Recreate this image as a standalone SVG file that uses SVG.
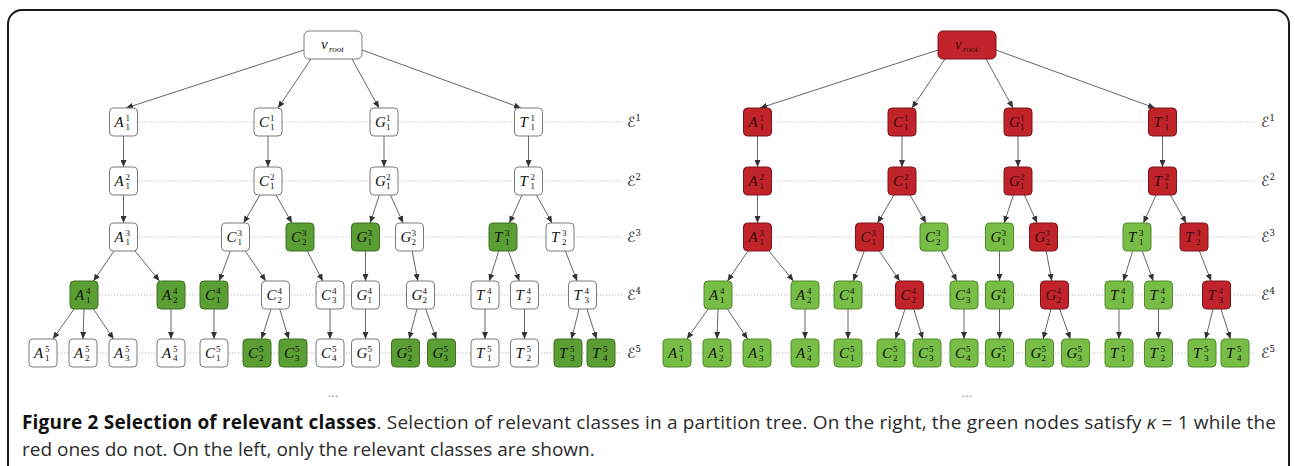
<svg xmlns="http://www.w3.org/2000/svg" width="1295" height="466" viewBox="0 0 1295 466">
<defs>
<marker id="ah" markerUnits="userSpaceOnUse" markerWidth="7" markerHeight="6" refX="7" refY="3" orient="auto"><path d="M0,0 L7,3 L0,6 z" fill="#333"/></marker>
<style>
.bg{fill:#fff}
.frame{fill:none;stroke:#1a1a1a;stroke-width:2}
.e line{stroke:#555;stroke-width:0.9;marker-end:url(#ah)}
.dot{stroke:#b8b8b8;stroke-width:1;stroke-dasharray:1.2 1.8}
.n rect{stroke-width:1}
.w rect{fill:#fff;stroke:#7a7a7a}
.gL rect{fill:#5a9e34;stroke:#3d7020}
.gR rect{fill:#78be46;stroke:#4f8a2b}
.r rect{fill:#c0232a;stroke:#7d1418}
.n text{font-family:"Liberation Serif","DejaVu Serif",serif;font-style:italic;font-size:15px;fill:#111}
.r text{fill:#3a0c0c}
.n .s{font-style:normal;font-size:9px}
.eps{font-family:"DejaVu Serif","DejaVu Sans",serif;font-style:italic;font-size:14px;fill:#111}
.eps tspan{font-size:8.5px;font-style:normal}
.ell{font-family:"DejaVu Sans",sans-serif;font-size:11px;fill:#777}
.cap{font-family:"Open Sans","Noto Sans",sans-serif;font-size:19px;fill:#2b2b2b}
.cap .b{font-weight:bold;fill:#111}
</style>
</defs>
<rect class="bg" x="0" y="0" width="1295" height="466"/>
<rect class="frame" x="8" y="10" width="1281" height="480" rx="14"/>

<g id="levels">
<line class="dot" x1="123.5" y1="122" x2="622" y2="122"/>
<line class="dot" x1="123.5" y1="181" x2="622" y2="181"/>
<line class="dot" x1="123.5" y1="237" x2="622" y2="237"/>
<line class="dot" x1="84" y1="295" x2="622" y2="295"/>
<line class="dot" x1="43" y1="353" x2="622" y2="353"/>
<line class="dot" x1="757.5" y1="122" x2="1256" y2="122"/>
<line class="dot" x1="757.5" y1="181" x2="1256" y2="181"/>
<line class="dot" x1="757.5" y1="237" x2="1256" y2="237"/>
<line class="dot" x1="718" y1="295" x2="1256" y2="295"/>
<line class="dot" x1="677" y1="353" x2="1256" y2="353"/>
<text class="eps" x="627" y="127">ℰ<tspan dy="-6">1</tspan></text>
<text class="eps" x="627" y="186">ℰ<tspan dy="-6">2</tspan></text>
<text class="eps" x="627" y="242">ℰ<tspan dy="-6">3</tspan></text>
<text class="eps" x="627" y="300">ℰ<tspan dy="-6">4</tspan></text>
<text class="eps" x="627" y="358">ℰ<tspan dy="-6">5</tspan></text>
<text class="eps" x="1261" y="127">ℰ<tspan dy="-6">1</tspan></text>
<text class="eps" x="1261" y="186">ℰ<tspan dy="-6">2</tspan></text>
<text class="eps" x="1261" y="242">ℰ<tspan dy="-6">3</tspan></text>
<text class="eps" x="1261" y="300">ℰ<tspan dy="-6">4</tspan></text>
<text class="eps" x="1261" y="358">ℰ<tspan dy="-6">5</tspan></text>
</g>

<g id="connectors-left" class="e">
<line x1="304" y1="50" x2="126" y2="108"/>
<line x1="311" y1="59" x2="278" y2="108"/>
<line x1="352" y1="59" x2="379" y2="108"/>
<line x1="362" y1="50" x2="521" y2="108"/>
<line x1="123.5" y1="136" x2="123.5" y2="167"/>
<line x1="268" y1="136" x2="268" y2="167"/>
<line x1="384" y1="136" x2="384" y2="167"/>
<line x1="528.5" y1="136" x2="528.5" y2="167"/>
<line x1="123.5" y1="195" x2="123.5" y2="223"/>
<line x1="259.9" y1="195" x2="243.6" y2="223"/>
<line x1="276" y1="195" x2="292" y2="223"/>
<line x1="379.4" y1="195" x2="370.1" y2="223"/>
<line x1="390.4" y1="195" x2="403.1" y2="223"/>
<line x1="522.1" y1="195" x2="509.4" y2="223"/>
<line x1="536.4" y1="195" x2="552.1" y2="223"/>
<line x1="114" y1="251" x2="93.5" y2="281"/>
<line x1="135" y1="251" x2="159.5" y2="281"/>
<line x1="230.3" y1="251" x2="219.2" y2="281"/>
<line x1="245.2" y1="251" x2="265.8" y2="281"/>
<line x1="307.2" y1="251" x2="322.8" y2="281"/>
<line x1="365.5" y1="251" x2="365.5" y2="281"/>
<line x1="412.2" y1="251" x2="417.8" y2="281"/>
<line x1="498.7" y1="251" x2="489.3" y2="281"/>
<line x1="508.2" y1="251" x2="519.3" y2="281"/>
<line x1="565.4" y1="251" x2="577.1" y2="281"/>
<line x1="74.1" y1="309" x2="52.9" y2="339"/>
<line x1="84" y1="309" x2="83" y2="339"/>
<line x1="93.4" y1="309" x2="113.6" y2="339"/>
<line x1="171" y1="309" x2="171" y2="339"/>
<line x1="214" y1="309" x2="214" y2="339"/>
<line x1="271" y1="309" x2="261.5" y2="339"/>
<line x1="279.7" y1="309" x2="288.8" y2="339"/>
<line x1="330" y1="309" x2="330" y2="339"/>
<line x1="365.5" y1="309" x2="365.5" y2="339"/>
<line x1="416.9" y1="309" x2="409.1" y2="339"/>
<line x1="425.6" y1="309" x2="436.4" y2="339"/>
<line x1="485" y1="309" x2="485" y2="339"/>
<line x1="524.5" y1="309" x2="524.5" y2="339"/>
<line x1="579" y1="309" x2="571.5" y2="339"/>
<line x1="587" y1="309" x2="596.5" y2="339"/>
</g>
<g id="connectors-right" class="e" transform="translate(634,0)">
<line x1="304" y1="50" x2="126" y2="108"/>
<line x1="311" y1="59" x2="278" y2="108"/>
<line x1="352" y1="59" x2="379" y2="108"/>
<line x1="362" y1="50" x2="521" y2="108"/>
<line x1="123.5" y1="136" x2="123.5" y2="167"/>
<line x1="268" y1="136" x2="268" y2="167"/>
<line x1="384" y1="136" x2="384" y2="167"/>
<line x1="528.5" y1="136" x2="528.5" y2="167"/>
<line x1="123.5" y1="195" x2="123.5" y2="223"/>
<line x1="259.9" y1="195" x2="243.6" y2="223"/>
<line x1="276" y1="195" x2="292" y2="223"/>
<line x1="379.4" y1="195" x2="370.1" y2="223"/>
<line x1="390.4" y1="195" x2="403.1" y2="223"/>
<line x1="522.1" y1="195" x2="509.4" y2="223"/>
<line x1="536.4" y1="195" x2="552.1" y2="223"/>
<line x1="114" y1="251" x2="93.5" y2="281"/>
<line x1="135" y1="251" x2="159.5" y2="281"/>
<line x1="230.3" y1="251" x2="219.2" y2="281"/>
<line x1="245.2" y1="251" x2="265.8" y2="281"/>
<line x1="307.2" y1="251" x2="322.8" y2="281"/>
<line x1="365.5" y1="251" x2="365.5" y2="281"/>
<line x1="412.2" y1="251" x2="417.8" y2="281"/>
<line x1="498.7" y1="251" x2="489.3" y2="281"/>
<line x1="508.2" y1="251" x2="519.3" y2="281"/>
<line x1="565.4" y1="251" x2="577.1" y2="281"/>
<line x1="74.1" y1="309" x2="52.9" y2="339"/>
<line x1="84" y1="309" x2="83" y2="339"/>
<line x1="93.4" y1="309" x2="113.6" y2="339"/>
<line x1="171" y1="309" x2="171" y2="339"/>
<line x1="214" y1="309" x2="214" y2="339"/>
<line x1="271" y1="309" x2="261.5" y2="339"/>
<line x1="279.7" y1="309" x2="288.8" y2="339"/>
<line x1="330" y1="309" x2="330" y2="339"/>
<line x1="365.5" y1="309" x2="365.5" y2="339"/>
<line x1="416.9" y1="309" x2="409.1" y2="339"/>
<line x1="425.6" y1="309" x2="436.4" y2="339"/>
<line x1="485" y1="309" x2="485" y2="339"/>
<line x1="524.5" y1="309" x2="524.5" y2="339"/>
<line x1="579" y1="309" x2="571.5" y2="339"/>
<line x1="587" y1="309" x2="596.5" y2="339"/>
</g>

<!-- Left tree nodes -->
<g id="L-root" class="n w" transform="translate(333,45)"><rect x="-29" y="-14" width="58" height="28" rx="5"/><text><tspan x="-12" y="4">v</tspan><tspan class="s" style="font-style:italic" x="-4" y="7">root</tspan></text></g>
<g id="L-A1-1" class="n w" transform="translate(123.5,122)"><rect x="-14" y="-14" width="28" height="28" rx="4"/><text><tspan x="-9" y="5">A</tspan><tspan class="s" x="2" y="-1">1</tspan><tspan class="s" x="2" y="8">1</tspan></text></g>
<g id="L-C1-1" class="n w" transform="translate(268,122)"><rect x="-14" y="-14" width="28" height="28" rx="4"/><text><tspan x="-9" y="5">C</tspan><tspan class="s" x="2" y="-1">1</tspan><tspan class="s" x="2" y="8">1</tspan></text></g>
<g id="L-G1-1" class="n w" transform="translate(384,122)"><rect x="-14" y="-14" width="28" height="28" rx="4"/><text><tspan x="-9" y="5">G</tspan><tspan class="s" x="2" y="-1">1</tspan><tspan class="s" x="2" y="8">1</tspan></text></g>
<g id="L-T1-1" class="n w" transform="translate(528.5,122)"><rect x="-14" y="-14" width="28" height="28" rx="4"/><text><tspan x="-9" y="5">T</tspan><tspan class="s" x="2" y="-1">1</tspan><tspan class="s" x="2" y="8">1</tspan></text></g>
<g id="L-A2-1" class="n w" transform="translate(123.5,181)"><rect x="-14" y="-14" width="28" height="28" rx="4"/><text><tspan x="-9" y="5">A</tspan><tspan class="s" x="2" y="-1">2</tspan><tspan class="s" x="2" y="8">1</tspan></text></g>
<g id="L-C2-1" class="n w" transform="translate(268,181)"><rect x="-14" y="-14" width="28" height="28" rx="4"/><text><tspan x="-9" y="5">C</tspan><tspan class="s" x="2" y="-1">2</tspan><tspan class="s" x="2" y="8">1</tspan></text></g>
<g id="L-G2-1" class="n w" transform="translate(384,181)"><rect x="-14" y="-14" width="28" height="28" rx="4"/><text><tspan x="-9" y="5">G</tspan><tspan class="s" x="2" y="-1">2</tspan><tspan class="s" x="2" y="8">1</tspan></text></g>
<g id="L-T2-1" class="n w" transform="translate(528.5,181)"><rect x="-14" y="-14" width="28" height="28" rx="4"/><text><tspan x="-9" y="5">T</tspan><tspan class="s" x="2" y="-1">2</tspan><tspan class="s" x="2" y="8">1</tspan></text></g>
<g id="L-A3-1" class="n w" transform="translate(123.5,237)"><rect x="-14" y="-14" width="28" height="28" rx="4"/><text><tspan x="-9" y="5">A</tspan><tspan class="s" x="2" y="-1">3</tspan><tspan class="s" x="2" y="8">1</tspan></text></g>
<g id="L-C3-1" class="n w" transform="translate(235.5,237)"><rect x="-14" y="-14" width="28" height="28" rx="4"/><text><tspan x="-9" y="5">C</tspan><tspan class="s" x="2" y="-1">3</tspan><tspan class="s" x="2" y="8">1</tspan></text></g>
<g id="L-C3-2" class="n gL" transform="translate(300,237)"><rect x="-14" y="-14" width="28" height="28" rx="4"/><text><tspan x="-9" y="5">C</tspan><tspan class="s" x="2" y="-1">3</tspan><tspan class="s" x="2" y="8">2</tspan></text></g>
<g id="L-G3-1" class="n gL" transform="translate(365.5,237)"><rect x="-14" y="-14" width="28" height="28" rx="4"/><text><tspan x="-9" y="5">G</tspan><tspan class="s" x="2" y="-1">3</tspan><tspan class="s" x="2" y="8">1</tspan></text></g>
<g id="L-G3-2" class="n w" transform="translate(409.5,237)"><rect x="-14" y="-14" width="28" height="28" rx="4"/><text><tspan x="-9" y="5">G</tspan><tspan class="s" x="2" y="-1">3</tspan><tspan class="s" x="2" y="8">2</tspan></text></g>
<g id="L-T3-1" class="n gL" transform="translate(503,237)"><rect x="-14" y="-14" width="28" height="28" rx="4"/><text><tspan x="-9" y="5">T</tspan><tspan class="s" x="2" y="-1">3</tspan><tspan class="s" x="2" y="8">1</tspan></text></g>
<g id="L-T3-2" class="n w" transform="translate(560,237)"><rect x="-14" y="-14" width="28" height="28" rx="4"/><text><tspan x="-9" y="5">T</tspan><tspan class="s" x="2" y="-1">3</tspan><tspan class="s" x="2" y="8">2</tspan></text></g>
<g id="L-A4-1" class="n gL" transform="translate(84,295)"><rect x="-14" y="-14" width="28" height="28" rx="4"/><text><tspan x="-9" y="5">A</tspan><tspan class="s" x="2" y="-1">4</tspan><tspan class="s" x="2" y="8">1</tspan></text></g>
<g id="L-A4-2" class="n gL" transform="translate(171,295)"><rect x="-14" y="-14" width="28" height="28" rx="4"/><text><tspan x="-9" y="5">A</tspan><tspan class="s" x="2" y="-1">4</tspan><tspan class="s" x="2" y="8">2</tspan></text></g>
<g id="L-C4-1" class="n gL" transform="translate(214,295)"><rect x="-14" y="-14" width="28" height="28" rx="4"/><text><tspan x="-9" y="5">C</tspan><tspan class="s" x="2" y="-1">4</tspan><tspan class="s" x="2" y="8">1</tspan></text></g>
<g id="L-C4-2" class="n w" transform="translate(275.5,295)"><rect x="-14" y="-14" width="28" height="28" rx="4"/><text><tspan x="-9" y="5">C</tspan><tspan class="s" x="2" y="-1">4</tspan><tspan class="s" x="2" y="8">2</tspan></text></g>
<g id="L-C4-3" class="n w" transform="translate(330,295)"><rect x="-14" y="-14" width="28" height="28" rx="4"/><text><tspan x="-9" y="5">C</tspan><tspan class="s" x="2" y="-1">4</tspan><tspan class="s" x="2" y="8">3</tspan></text></g>
<g id="L-G4-1" class="n w" transform="translate(365.5,295)"><rect x="-14" y="-14" width="28" height="28" rx="4"/><text><tspan x="-9" y="5">G</tspan><tspan class="s" x="2" y="-1">4</tspan><tspan class="s" x="2" y="8">1</tspan></text></g>
<g id="L-G4-2" class="n w" transform="translate(420.5,295)"><rect x="-14" y="-14" width="28" height="28" rx="4"/><text><tspan x="-9" y="5">G</tspan><tspan class="s" x="2" y="-1">4</tspan><tspan class="s" x="2" y="8">2</tspan></text></g>
<g id="L-T4-1" class="n w" transform="translate(485,295)"><rect x="-14" y="-14" width="28" height="28" rx="4"/><text><tspan x="-9" y="5">T</tspan><tspan class="s" x="2" y="-1">4</tspan><tspan class="s" x="2" y="8">1</tspan></text></g>
<g id="L-T4-2" class="n w" transform="translate(524.5,295)"><rect x="-14" y="-14" width="28" height="28" rx="4"/><text><tspan x="-9" y="5">T</tspan><tspan class="s" x="2" y="-1">4</tspan><tspan class="s" x="2" y="8">2</tspan></text></g>
<g id="L-T4-3" class="n w" transform="translate(582.5,295)"><rect x="-14" y="-14" width="28" height="28" rx="4"/><text><tspan x="-9" y="5">T</tspan><tspan class="s" x="2" y="-1">4</tspan><tspan class="s" x="2" y="8">3</tspan></text></g>
<g id="L-A5-1" class="n w" transform="translate(43,353)"><rect x="-14" y="-14" width="28" height="28" rx="4"/><text><tspan x="-9" y="5">A</tspan><tspan class="s" x="2" y="-1">5</tspan><tspan class="s" x="2" y="8">1</tspan></text></g>
<g id="L-A5-2" class="n w" transform="translate(83,353)"><rect x="-14" y="-14" width="28" height="28" rx="4"/><text><tspan x="-9" y="5">A</tspan><tspan class="s" x="2" y="-1">5</tspan><tspan class="s" x="2" y="8">2</tspan></text></g>
<g id="L-A5-3" class="n w" transform="translate(123,353)"><rect x="-14" y="-14" width="28" height="28" rx="4"/><text><tspan x="-9" y="5">A</tspan><tspan class="s" x="2" y="-1">5</tspan><tspan class="s" x="2" y="8">3</tspan></text></g>
<g id="L-A5-4" class="n w" transform="translate(171,353)"><rect x="-14" y="-14" width="28" height="28" rx="4"/><text><tspan x="-9" y="5">A</tspan><tspan class="s" x="2" y="-1">5</tspan><tspan class="s" x="2" y="8">4</tspan></text></g>
<g id="L-C5-1" class="n w" transform="translate(214,353)"><rect x="-14" y="-14" width="28" height="28" rx="4"/><text><tspan x="-9" y="5">C</tspan><tspan class="s" x="2" y="-1">5</tspan><tspan class="s" x="2" y="8">1</tspan></text></g>
<g id="L-C5-2" class="n gL" transform="translate(257,353)"><rect x="-14" y="-14" width="28" height="28" rx="4"/><text><tspan x="-9" y="5">C</tspan><tspan class="s" x="2" y="-1">5</tspan><tspan class="s" x="2" y="8">2</tspan></text></g>
<g id="L-C5-3" class="n gL" transform="translate(293,353)"><rect x="-14" y="-14" width="28" height="28" rx="4"/><text><tspan x="-9" y="5">C</tspan><tspan class="s" x="2" y="-1">5</tspan><tspan class="s" x="2" y="8">3</tspan></text></g>
<g id="L-C5-4" class="n w" transform="translate(330,353)"><rect x="-14" y="-14" width="28" height="28" rx="4"/><text><tspan x="-9" y="5">C</tspan><tspan class="s" x="2" y="-1">5</tspan><tspan class="s" x="2" y="8">4</tspan></text></g>
<g id="L-G5-1" class="n w" transform="translate(365.5,353)"><rect x="-14" y="-14" width="28" height="28" rx="4"/><text><tspan x="-9" y="5">G</tspan><tspan class="s" x="2" y="-1">5</tspan><tspan class="s" x="2" y="8">1</tspan></text></g>
<g id="L-G5-2" class="n gL" transform="translate(405.5,353)"><rect x="-14" y="-14" width="28" height="28" rx="4"/><text><tspan x="-9" y="5">G</tspan><tspan class="s" x="2" y="-1">5</tspan><tspan class="s" x="2" y="8">2</tspan></text></g>
<g id="L-G5-3" class="n gL" transform="translate(441.5,353)"><rect x="-14" y="-14" width="28" height="28" rx="4"/><text><tspan x="-9" y="5">G</tspan><tspan class="s" x="2" y="-1">5</tspan><tspan class="s" x="2" y="8">3</tspan></text></g>
<g id="L-T5-1" class="n w" transform="translate(485,353)"><rect x="-14" y="-14" width="28" height="28" rx="4"/><text><tspan x="-9" y="5">T</tspan><tspan class="s" x="2" y="-1">5</tspan><tspan class="s" x="2" y="8">1</tspan></text></g>
<g id="L-T5-2" class="n w" transform="translate(524.5,353)"><rect x="-14" y="-14" width="28" height="28" rx="4"/><text><tspan x="-9" y="5">T</tspan><tspan class="s" x="2" y="-1">5</tspan><tspan class="s" x="2" y="8">2</tspan></text></g>
<g id="L-T5-3" class="n gL" transform="translate(568,353)"><rect x="-14" y="-14" width="28" height="28" rx="4"/><text><tspan x="-9" y="5">T</tspan><tspan class="s" x="2" y="-1">5</tspan><tspan class="s" x="2" y="8">3</tspan></text></g>
<g id="L-T5-4" class="n gL" transform="translate(601,353)"><rect x="-14" y="-14" width="28" height="28" rx="4"/><text><tspan x="-9" y="5">T</tspan><tspan class="s" x="2" y="-1">5</tspan><tspan class="s" x="2" y="8">4</tspan></text></g>

<!-- Right tree nodes -->
<g id="R-root" class="n r" transform="translate(967,45)"><rect x="-29" y="-14" width="58" height="28" rx="5"/><text><tspan x="-12" y="4">v</tspan><tspan class="s" style="font-style:italic" x="-4" y="7">root</tspan></text></g>
<g id="R-A1-1" class="n r" transform="translate(757.5,122)"><rect x="-14" y="-14" width="28" height="28" rx="4"/><text><tspan x="-9" y="5">A</tspan><tspan class="s" x="2" y="-1">1</tspan><tspan class="s" x="2" y="8">1</tspan></text></g>
<g id="R-C1-1" class="n r" transform="translate(902,122)"><rect x="-14" y="-14" width="28" height="28" rx="4"/><text><tspan x="-9" y="5">C</tspan><tspan class="s" x="2" y="-1">1</tspan><tspan class="s" x="2" y="8">1</tspan></text></g>
<g id="R-G1-1" class="n r" transform="translate(1018,122)"><rect x="-14" y="-14" width="28" height="28" rx="4"/><text><tspan x="-9" y="5">G</tspan><tspan class="s" x="2" y="-1">1</tspan><tspan class="s" x="2" y="8">1</tspan></text></g>
<g id="R-T1-1" class="n r" transform="translate(1162.5,122)"><rect x="-14" y="-14" width="28" height="28" rx="4"/><text><tspan x="-9" y="5">T</tspan><tspan class="s" x="2" y="-1">1</tspan><tspan class="s" x="2" y="8">1</tspan></text></g>
<g id="R-A2-1" class="n r" transform="translate(757.5,181)"><rect x="-14" y="-14" width="28" height="28" rx="4"/><text><tspan x="-9" y="5">A</tspan><tspan class="s" x="2" y="-1">2</tspan><tspan class="s" x="2" y="8">1</tspan></text></g>
<g id="R-C2-1" class="n r" transform="translate(902,181)"><rect x="-14" y="-14" width="28" height="28" rx="4"/><text><tspan x="-9" y="5">C</tspan><tspan class="s" x="2" y="-1">2</tspan><tspan class="s" x="2" y="8">1</tspan></text></g>
<g id="R-G2-1" class="n r" transform="translate(1018,181)"><rect x="-14" y="-14" width="28" height="28" rx="4"/><text><tspan x="-9" y="5">G</tspan><tspan class="s" x="2" y="-1">2</tspan><tspan class="s" x="2" y="8">1</tspan></text></g>
<g id="R-T2-1" class="n r" transform="translate(1162.5,181)"><rect x="-14" y="-14" width="28" height="28" rx="4"/><text><tspan x="-9" y="5">T</tspan><tspan class="s" x="2" y="-1">2</tspan><tspan class="s" x="2" y="8">1</tspan></text></g>
<g id="R-A3-1" class="n r" transform="translate(757.5,237)"><rect x="-14" y="-14" width="28" height="28" rx="4"/><text><tspan x="-9" y="5">A</tspan><tspan class="s" x="2" y="-1">3</tspan><tspan class="s" x="2" y="8">1</tspan></text></g>
<g id="R-C3-1" class="n r" transform="translate(869.5,237)"><rect x="-14" y="-14" width="28" height="28" rx="4"/><text><tspan x="-9" y="5">C</tspan><tspan class="s" x="2" y="-1">3</tspan><tspan class="s" x="2" y="8">1</tspan></text></g>
<g id="R-C3-2" class="n gR" transform="translate(934,237)"><rect x="-14" y="-14" width="28" height="28" rx="4"/><text><tspan x="-9" y="5">C</tspan><tspan class="s" x="2" y="-1">3</tspan><tspan class="s" x="2" y="8">2</tspan></text></g>
<g id="R-G3-1" class="n gR" transform="translate(999.5,237)"><rect x="-14" y="-14" width="28" height="28" rx="4"/><text><tspan x="-9" y="5">G</tspan><tspan class="s" x="2" y="-1">3</tspan><tspan class="s" x="2" y="8">1</tspan></text></g>
<g id="R-G3-2" class="n r" transform="translate(1043.5,237)"><rect x="-14" y="-14" width="28" height="28" rx="4"/><text><tspan x="-9" y="5">G</tspan><tspan class="s" x="2" y="-1">3</tspan><tspan class="s" x="2" y="8">2</tspan></text></g>
<g id="R-T3-1" class="n gR" transform="translate(1137,237)"><rect x="-14" y="-14" width="28" height="28" rx="4"/><text><tspan x="-9" y="5">T</tspan><tspan class="s" x="2" y="-1">3</tspan><tspan class="s" x="2" y="8">1</tspan></text></g>
<g id="R-T3-2" class="n r" transform="translate(1194,237)"><rect x="-14" y="-14" width="28" height="28" rx="4"/><text><tspan x="-9" y="5">T</tspan><tspan class="s" x="2" y="-1">3</tspan><tspan class="s" x="2" y="8">2</tspan></text></g>
<g id="R-A4-1" class="n gR" transform="translate(718,295)"><rect x="-14" y="-14" width="28" height="28" rx="4"/><text><tspan x="-9" y="5">A</tspan><tspan class="s" x="2" y="-1">4</tspan><tspan class="s" x="2" y="8">1</tspan></text></g>
<g id="R-A4-2" class="n gR" transform="translate(805,295)"><rect x="-14" y="-14" width="28" height="28" rx="4"/><text><tspan x="-9" y="5">A</tspan><tspan class="s" x="2" y="-1">4</tspan><tspan class="s" x="2" y="8">2</tspan></text></g>
<g id="R-C4-1" class="n gR" transform="translate(848,295)"><rect x="-14" y="-14" width="28" height="28" rx="4"/><text><tspan x="-9" y="5">C</tspan><tspan class="s" x="2" y="-1">4</tspan><tspan class="s" x="2" y="8">1</tspan></text></g>
<g id="R-C4-2" class="n r" transform="translate(909.5,295)"><rect x="-14" y="-14" width="28" height="28" rx="4"/><text><tspan x="-9" y="5">C</tspan><tspan class="s" x="2" y="-1">4</tspan><tspan class="s" x="2" y="8">2</tspan></text></g>
<g id="R-C4-3" class="n gR" transform="translate(964,295)"><rect x="-14" y="-14" width="28" height="28" rx="4"/><text><tspan x="-9" y="5">C</tspan><tspan class="s" x="2" y="-1">4</tspan><tspan class="s" x="2" y="8">3</tspan></text></g>
<g id="R-G4-1" class="n gR" transform="translate(999.5,295)"><rect x="-14" y="-14" width="28" height="28" rx="4"/><text><tspan x="-9" y="5">G</tspan><tspan class="s" x="2" y="-1">4</tspan><tspan class="s" x="2" y="8">1</tspan></text></g>
<g id="R-G4-2" class="n r" transform="translate(1054.5,295)"><rect x="-14" y="-14" width="28" height="28" rx="4"/><text><tspan x="-9" y="5">G</tspan><tspan class="s" x="2" y="-1">4</tspan><tspan class="s" x="2" y="8">2</tspan></text></g>
<g id="R-T4-1" class="n gR" transform="translate(1119,295)"><rect x="-14" y="-14" width="28" height="28" rx="4"/><text><tspan x="-9" y="5">T</tspan><tspan class="s" x="2" y="-1">4</tspan><tspan class="s" x="2" y="8">1</tspan></text></g>
<g id="R-T4-2" class="n gR" transform="translate(1158.5,295)"><rect x="-14" y="-14" width="28" height="28" rx="4"/><text><tspan x="-9" y="5">T</tspan><tspan class="s" x="2" y="-1">4</tspan><tspan class="s" x="2" y="8">2</tspan></text></g>
<g id="R-T4-3" class="n r" transform="translate(1216.5,295)"><rect x="-14" y="-14" width="28" height="28" rx="4"/><text><tspan x="-9" y="5">T</tspan><tspan class="s" x="2" y="-1">4</tspan><tspan class="s" x="2" y="8">3</tspan></text></g>
<g id="R-A5-1" class="n gR" transform="translate(677,353)"><rect x="-14" y="-14" width="28" height="28" rx="4"/><text><tspan x="-9" y="5">A</tspan><tspan class="s" x="2" y="-1">5</tspan><tspan class="s" x="2" y="8">1</tspan></text></g>
<g id="R-A5-2" class="n gR" transform="translate(717,353)"><rect x="-14" y="-14" width="28" height="28" rx="4"/><text><tspan x="-9" y="5">A</tspan><tspan class="s" x="2" y="-1">5</tspan><tspan class="s" x="2" y="8">2</tspan></text></g>
<g id="R-A5-3" class="n gR" transform="translate(757,353)"><rect x="-14" y="-14" width="28" height="28" rx="4"/><text><tspan x="-9" y="5">A</tspan><tspan class="s" x="2" y="-1">5</tspan><tspan class="s" x="2" y="8">3</tspan></text></g>
<g id="R-A5-4" class="n gR" transform="translate(805,353)"><rect x="-14" y="-14" width="28" height="28" rx="4"/><text><tspan x="-9" y="5">A</tspan><tspan class="s" x="2" y="-1">5</tspan><tspan class="s" x="2" y="8">4</tspan></text></g>
<g id="R-C5-1" class="n gR" transform="translate(848,353)"><rect x="-14" y="-14" width="28" height="28" rx="4"/><text><tspan x="-9" y="5">C</tspan><tspan class="s" x="2" y="-1">5</tspan><tspan class="s" x="2" y="8">1</tspan></text></g>
<g id="R-C5-2" class="n gR" transform="translate(891,353)"><rect x="-14" y="-14" width="28" height="28" rx="4"/><text><tspan x="-9" y="5">C</tspan><tspan class="s" x="2" y="-1">5</tspan><tspan class="s" x="2" y="8">2</tspan></text></g>
<g id="R-C5-3" class="n gR" transform="translate(927,353)"><rect x="-14" y="-14" width="28" height="28" rx="4"/><text><tspan x="-9" y="5">C</tspan><tspan class="s" x="2" y="-1">5</tspan><tspan class="s" x="2" y="8">3</tspan></text></g>
<g id="R-C5-4" class="n gR" transform="translate(964,353)"><rect x="-14" y="-14" width="28" height="28" rx="4"/><text><tspan x="-9" y="5">C</tspan><tspan class="s" x="2" y="-1">5</tspan><tspan class="s" x="2" y="8">4</tspan></text></g>
<g id="R-G5-1" class="n gR" transform="translate(999.5,353)"><rect x="-14" y="-14" width="28" height="28" rx="4"/><text><tspan x="-9" y="5">G</tspan><tspan class="s" x="2" y="-1">5</tspan><tspan class="s" x="2" y="8">1</tspan></text></g>
<g id="R-G5-2" class="n gR" transform="translate(1039.5,353)"><rect x="-14" y="-14" width="28" height="28" rx="4"/><text><tspan x="-9" y="5">G</tspan><tspan class="s" x="2" y="-1">5</tspan><tspan class="s" x="2" y="8">2</tspan></text></g>
<g id="R-G5-3" class="n gR" transform="translate(1075.5,353)"><rect x="-14" y="-14" width="28" height="28" rx="4"/><text><tspan x="-9" y="5">G</tspan><tspan class="s" x="2" y="-1">5</tspan><tspan class="s" x="2" y="8">3</tspan></text></g>
<g id="R-T5-1" class="n gR" transform="translate(1119,353)"><rect x="-14" y="-14" width="28" height="28" rx="4"/><text><tspan x="-9" y="5">T</tspan><tspan class="s" x="2" y="-1">5</tspan><tspan class="s" x="2" y="8">1</tspan></text></g>
<g id="R-T5-2" class="n gR" transform="translate(1158.5,353)"><rect x="-14" y="-14" width="28" height="28" rx="4"/><text><tspan x="-9" y="5">T</tspan><tspan class="s" x="2" y="-1">5</tspan><tspan class="s" x="2" y="8">2</tspan></text></g>
<g id="R-T5-3" class="n gR" transform="translate(1202,353)"><rect x="-14" y="-14" width="28" height="28" rx="4"/><text><tspan x="-9" y="5">T</tspan><tspan class="s" x="2" y="-1">5</tspan><tspan class="s" x="2" y="8">3</tspan></text></g>
<g id="R-T5-4" class="n gR" transform="translate(1235,353)"><rect x="-14" y="-14" width="28" height="28" rx="4"/><text><tspan x="-9" y="5">T</tspan><tspan class="s" x="2" y="-1">5</tspan><tspan class="s" x="2" y="8">4</tspan></text></g>

<text class="ell" x="333" y="397" text-anchor="middle">...</text>
<text class="ell" x="967" y="397" text-anchor="middle">...</text>

<g id="caption">
<text class="cap" x="22" y="429" textLength="1254" lengthAdjust="spacing"><tspan class="b">Figure 2 Selection of relevant classes</tspan>. Selection of relevant classes in a partition tree. On the right, the green nodes satisfy <tspan font-style="italic">κ</tspan> = 1 while the</text>
<text class="cap" x="22" y="456">red ones do not. On the left, only the relevant classes are shown.</text>
</g>
</svg>
